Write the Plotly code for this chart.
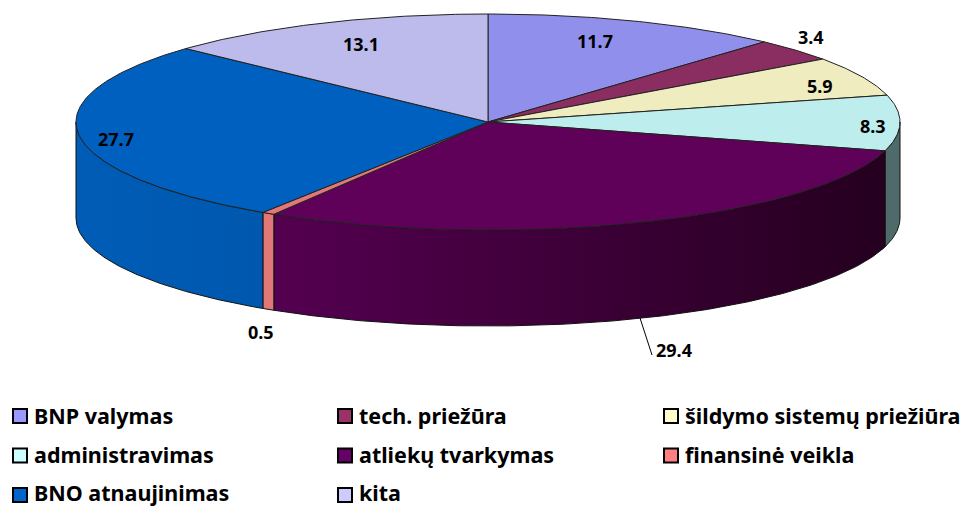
import numpy as np
import plotly.graph_objects as go

categories = ["BNP valymas", "tech. priežūra", "šildymo sistemų priežiūra", "administravimas",
              "atliekų tvarkymas", "finansinė veikla", "BNO atnaujinimas", "kita"]
values = [11.7, 3.4, 5.9, 8.3, 29.4, 0.5, 27.7, 13.1]
value_labels = ["11.7", "3.4", "5.9", "8.3", "29.4", "0.5", "27.7", "13.1"]
top_colors = ["#9090EC", "#8A2E62", "#EFEDBF", "#BDEDED", "#5F0059", "#E27777", "#0060C0", "#BDBBEC"]
legend_colors = ["#9999FF", "#993366", "#FFFFCC", "#CCFFFF", "#660066", "#FF8080", "#0066CC", "#CCCCFF"]
side_scales = {3: ("#4F6A6A", "#4F6A6A"), 4: ("#540050", "#25001F"), 5: ("#E27777", "#E27777"), 6: ("#005CB6", "#0058AE")}

# pie geometry in pixel-like axis units
CX, CY, RX, RY, DEPTH = 488, 122, 412, 108, 96
label_pos = [(595, 41), (811, 37), (820, 86), (873, 126), (674, 350), (261, 332), (116, 139), (361, 44)]
legend_col = [20, 345, 671]
legend_row = [416, 455.5, 495]
legend_text_row = [415, 454.5, 492.5]
TEXT_OFFSET = 12
FONT = "Noto Sans"


def arc(a0, a1):
    t = np.radians(np.linspace(a0, a1, max(int(abs(a1 - a0) * 2), 2) + 1))
    return CX + RX * np.sin(t), CY - RY * np.cos(t)


edges = np.concatenate([[0], np.cumsum(values)]) / sum(values) * 360
fig = go.Figure()

# side walls, only the part of each slice on the near half of the ellipse
for i, (a0, a1) in enumerate(zip(edges[:-1], edges[1:])):
    lo, hi = max(a0, 90), min(a1, 270)
    if lo >= hi:
        continue
    x, y = arc(lo, hi)
    xs = np.concatenate([x, x[::-1], x[:1]])
    ys = np.concatenate([y, y[::-1] + DEPTH, y[:1]])
    left, right = side_scales[i]
    fig.add_trace(go.Scatter(
        x=xs, y=ys, mode="lines", fill="toself", name=categories[i],
        line=dict(color="#111111", width=1), showlegend=False, hoverinfo="skip",
        fillgradient=dict(type="horizontal", colorscale=[[0, left], [1, right]])))

# top faces
for i, (a0, a1) in enumerate(zip(edges[:-1], edges[1:])):
    x, y = arc(a0, a1)
    fig.add_trace(go.Scatter(
        x=np.concatenate([[CX], x, [CX]]), y=np.concatenate([[CY], y, [CY]]),
        mode="lines", fill="toself", fillcolor=top_colors[i], name=categories[i],
        line=dict(color="#222222", width=1), showlegend=False, hoverinfo="skip"))

# leader line for the large slice
fig.add_shape(type="line", x0=640, y0=318, x1=652, y1=355, line=dict(color="#000000", width=1))

annotations = []
for txt, (px, py) in zip(value_labels, label_pos):
    annotations.append(dict(x=px, y=py, text=f"<b>{txt}</b>", showarrow=False,
                            font=dict(family=FONT, size=18, color="#000000")))

# legend keys and texts, in three columns
for i, name in enumerate(categories):
    lx = legend_col[i % 3]
    fig.add_trace(go.Scatter(
        x=[lx], y=[legend_row[i // 3]], mode="markers", name=name, showlegend=False, hoverinfo="skip",
        marker=dict(symbol="square", size=14, color=legend_colors[i], line=dict(color="#000000", width=2))))
    annotations.append(dict(x=lx + TEXT_OFFSET, y=legend_text_row[i // 3], text=f"<b>{name}</b>", showarrow=False,
                            xanchor="left", yanchor="middle",
                            font=dict(family=FONT, size=21.5, color="#000000")))

fig.update_layout(
    width=971, height=507, margin=dict(l=0, r=0, t=0, b=0),
    paper_bgcolor="#FFFFFF", plot_bgcolor="#FFFFFF", showlegend=False,
    xaxis=dict(range=[0, 971], visible=False, fixedrange=True),
    yaxis=dict(range=[507, 0], visible=False, fixedrange=True),
    annotations=annotations)

fig.write_html("out.html", config={"displayModeBar": False},
               post_script="document.body.style.margin='0';document.body.style.overflow='hidden';")
